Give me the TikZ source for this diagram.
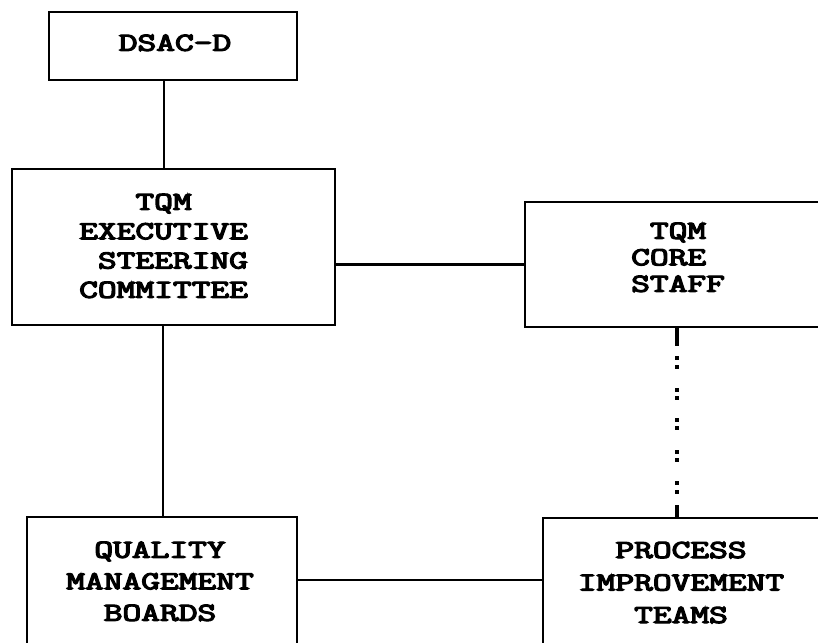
\documentclass[tikz,border=0pt]{standalone}
\usepackage{fontspec}
\usepackage{graphicx}
\newfontfamily\twf{Latin Modern Mono}[AutoFakeBold=4.2]
\newcommand\blk[3]{\scalebox{1.4}[1]{\twf\bfseries\fontsize{26}{#2}\selectfont\begin{tabular}{@{}#1@{}}#3\end{tabular}}}
\tikzset{
  box/.style={draw, line width=2.6pt, rectangle, inner sep=0pt},
  lbl/.style={inner sep=0pt},
  conn/.style={line width=2.6pt},
  colon/.style={line width=3.4pt, dash pattern=on 18pt off 10pt on 4pt off 5pt on 4pt off 19pt on 4pt off 4pt on 4pt off 18pt on 4pt off 4pt on 4pt off 20pt on 4pt off 4pt on 4pt off 19pt on 4pt off 5pt on 4pt off 11pt on 14pt}
}
\begin{document}
\begin{tikzpicture}[x=1pt, y=-1pt]
\useasboundingbox (0,0) rectangle (818,642);
\fill[white] (0,0) rectangle (818,642);
\clip (0,0) rectangle (818,642);
% boxes
\node[box, minimum width=248pt, minimum height=68pt] (dsac) at (173,46) {};
\node[box, minimum width=323pt, minimum height=156pt] (exec) at (173.5,247) {};
\node[box, minimum width=320pt, minimum height=125pt] (core) at (685,264.5) {};
\node[box, minimum width=270pt, minimum height=150pt] (qmb) at (162,592) {};
\node[box, minimum width=300pt, minimum height=150pt] (pit) at (693,593) {};
% texts
\node[lbl] (dsacT) at (175,45) {\blk{c}{29}{DSAC-D}};
\node[lbl, anchor=west] (execT) at (79,248) {\blk{l}{29.3}{\ \ \ TQM\\EXECUTIVE\\\ STEERING\\COMMITTEE}};
\node[lbl, anchor=west] (coreT) at (631,260) {\blk{l}{26.5}{\ TQM\\CORE\\STAFF}};
\node[lbl] (qmbT) at (160,583) {\blk{c}{31.5}{QUALITY\\MANAGEMENT\\BOARDS}};
\node[lbl] (pitT) at (681,584) {\blk{c}{32.5}{PROCESS\\IMPROVEMENT\\TEAMS}};
% connectors
\draw[conn] ([xshift=-9pt]dsac.south) -- ([xshift=-9pt]dsac.south |- exec.north);
\draw[conn] ([xshift=1pt]qmb.north |- exec.south) -- ([xshift=1pt]qmb.north);
\draw[conn] (exec.east |- core.west) -- (core.west);
\draw[colon] ([xshift=-4pt]pitT.north |- core.south) -- ([xshift=-4pt]pitT.north |- pit.north);
\draw[conn] (qmb.east |- 0,580) -- (pit.west |- 0,580);
\end{tikzpicture}
\end{document}
